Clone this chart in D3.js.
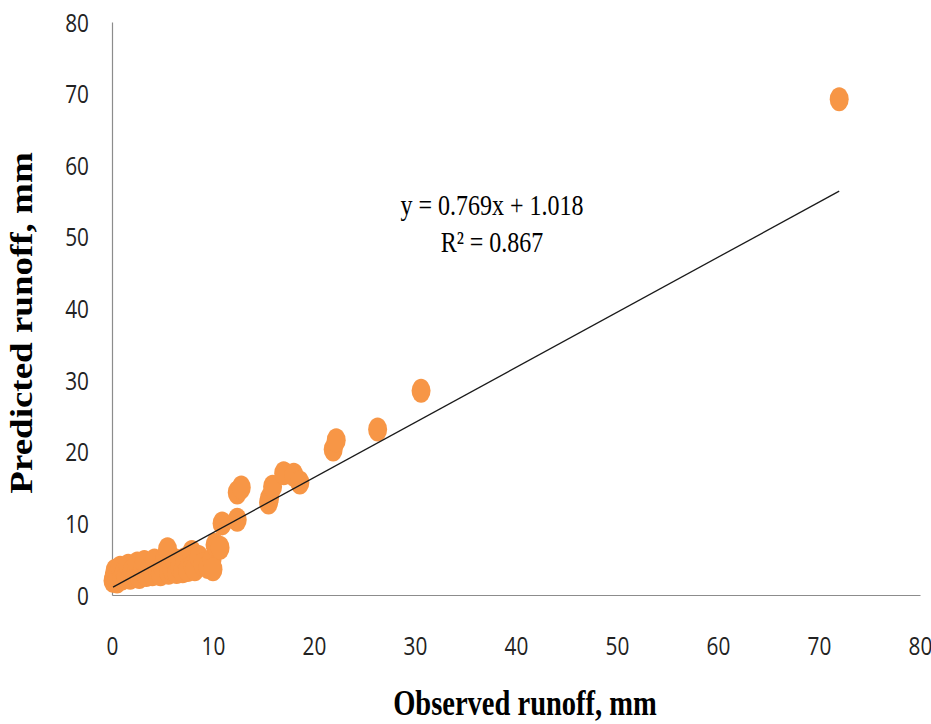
<!DOCTYPE html>
<html>
<head>
<meta charset="utf-8">
<script src="https://cdn.jsdelivr.net/npm/d3@7"></script>
<style>
  body { margin: 0; background: #fff; }
</style>
</head>
<body>
<div id="chart"></div>
<script>
// observed vs predicted runoff (mm)
const observed = [0.1, 0.2, 0.3, 0.5, 0.6, 0.8, 1.0, 1.2, 1.4, 1.6, 1.8, 2.0, 2.3, 2.5, 2.7,
  3.0, 3.2, 3.4, 3.7, 4.0, 4.2, 4.5, 4.8, 5.0, 5.2, 5.5, 5.6, 5.9, 6.2, 6.4, 6.7, 7.0, 7.2,
  7.5, 7.9, 8.0, 8.2, 8.6, 9.0, 9.5, 9.9, 10.0, 10.2, 10.7, 10.9, 12.4, 12.4, 12.8, 15.5,
  15.6, 15.9, 17.0, 18.0, 18.6, 21.9, 22.2, 26.3, 30.6, 72.0];
const predicted = [2.0, 2.6, 3.4, 1.9, 2.9, 3.8, 2.3, 3.2, 2.6, 4.1, 2.4, 3.4, 2.7, 4.4, 2.5,
  3.4, 4.6, 2.8, 3.7, 2.9, 4.8, 3.3, 2.9, 4.0, 5.0, 6.4, 3.1, 3.7, 4.9, 3.2, 3.9, 3.3, 5.0,
  3.5, 6.0, 4.1, 3.6, 5.3, 4.3, 3.9, 4.9, 3.6, 7.0, 6.6, 10.0, 10.5, 14.3, 15.0, 12.9,
  13.5, 15.1, 17.0, 16.8, 15.7, 20.3, 21.6, 23.1, 28.5, 69.2];
const xTicks = [0, 10, 20, 30, 40, 50, 60, 70, 80];
const yTicks = [0, 10, 20, 30, 40, 50, 60, 70, 80];
const slope = 0.769;
const intercept = 1.018;
const rSquared = 0.867;

const width = 931;
const height = 724;
const squeeze = 0.8; // the whole figure is narrowed horizontally

const svg = d3.select('#chart')
  .append('svg')
  .attr('width', width)
  .attr('height', height);

svg.append('rect')
  .attr('width', width)
  .attr('height', height)
  .attr('fill', '#fff');

const x = d3.scaleLinear().domain([0, 80]).range([112, 920]);
const y = d3.scaleLinear().domain([0, 80]).range([595, 22]);

// axes
const xAxis = svg.append('g')
  .attr('transform', `translate(0, ${y(0)})`)
  .call(d3.axisBottom(x).tickValues(xTicks).tickSize(0).tickSizeOuter(0));

const yAxis = svg.append('g')
  .attr('transform', `translate(${x(0)}, 0)`)
  .call(d3.axisLeft(y).tickValues(yTicks).tickSize(0).tickSizeOuter(0));

[xAxis, yAxis].forEach(g => {
  g.select('.domain').attr('stroke', '#8c8c8c').attr('stroke-width', 1.2);
  g.selectAll('text')
    .attr('fill', '#222')
    .style('font-family', '"Open Sans", sans-serif')
    .style('font-size', '26px')
    .attr('dy', null);
});

xAxis.selectAll('text')
  .attr('y', 60)
  .attr('transform', `scale(${squeeze}, 1)`);

yAxis.selectAll('text')
  .attr('x', -23 / squeeze)
  .attr('y', 9)
  .attr('transform', `scale(${squeeze}, 1)`);

// points
const points = observed.map((o, i) => ({ o: o, p: predicted[i] }));

svg.append('g')
  .selectAll('ellipse')
  .data(points)
  .enter()
  .append('ellipse')
  .attr('cx', d => x(d.o))
  .attr('cy', d => y(d.p))
  .attr('rx', 9.5)
  .attr('ry', 12)
  .attr('fill', '#f79646');

// linear trendline across the observed range
const xExtent = d3.extent(observed);
const trend = xExtent.map(v => ({ o: v, p: slope * v + intercept }));

svg.append('path')
  .datum(trend)
  .attr('d', d3.line().x(d => x(d.o)).y(d => y(d.p)))
  .attr('fill', 'none')
  .attr('stroke', '#1a1a1a')
  .attr('stroke-width', 1.3);

// equation label
const eq = svg.append('g')
  .style('font-family', '"Liberation Serif", "Times New Roman", serif')
  .style('font-size', '30px')
  .attr('fill', '#000')
  .attr('text-anchor', 'middle');

eq.append('text')
  .attr('transform', `translate(492, 215) scale(${squeeze}, 1)`)
  .text(`y = ${slope}x + ${intercept}`);

eq.append('text')
  .attr('transform', `translate(492, 252) scale(${squeeze}, 1)`)
  .text(`R² = ${rSquared}`);

// axis titles
svg.append('text')
  .attr('transform', `translate(525, 715) scale(0.815, 1)`)
  .attr('text-anchor', 'middle')
  .style('font-family', '"Liberation Serif", "Times New Roman", serif')
  .style('font-weight', 'bold')
  .style('font-size', '35px')
  .text('Observed runoff, mm');

svg.append('text')
  .attr('transform', `translate(32, 323) scale(0.88, 1) rotate(-90)`)
  .attr('text-anchor', 'middle')
  .style('font-family', '"Liberation Serif", "Times New Roman", serif')
  .style('font-weight', 'bold')
  .style('font-size', '37px')
  .text('Predicted runoff, mm');
</script>
</body>
</html>
